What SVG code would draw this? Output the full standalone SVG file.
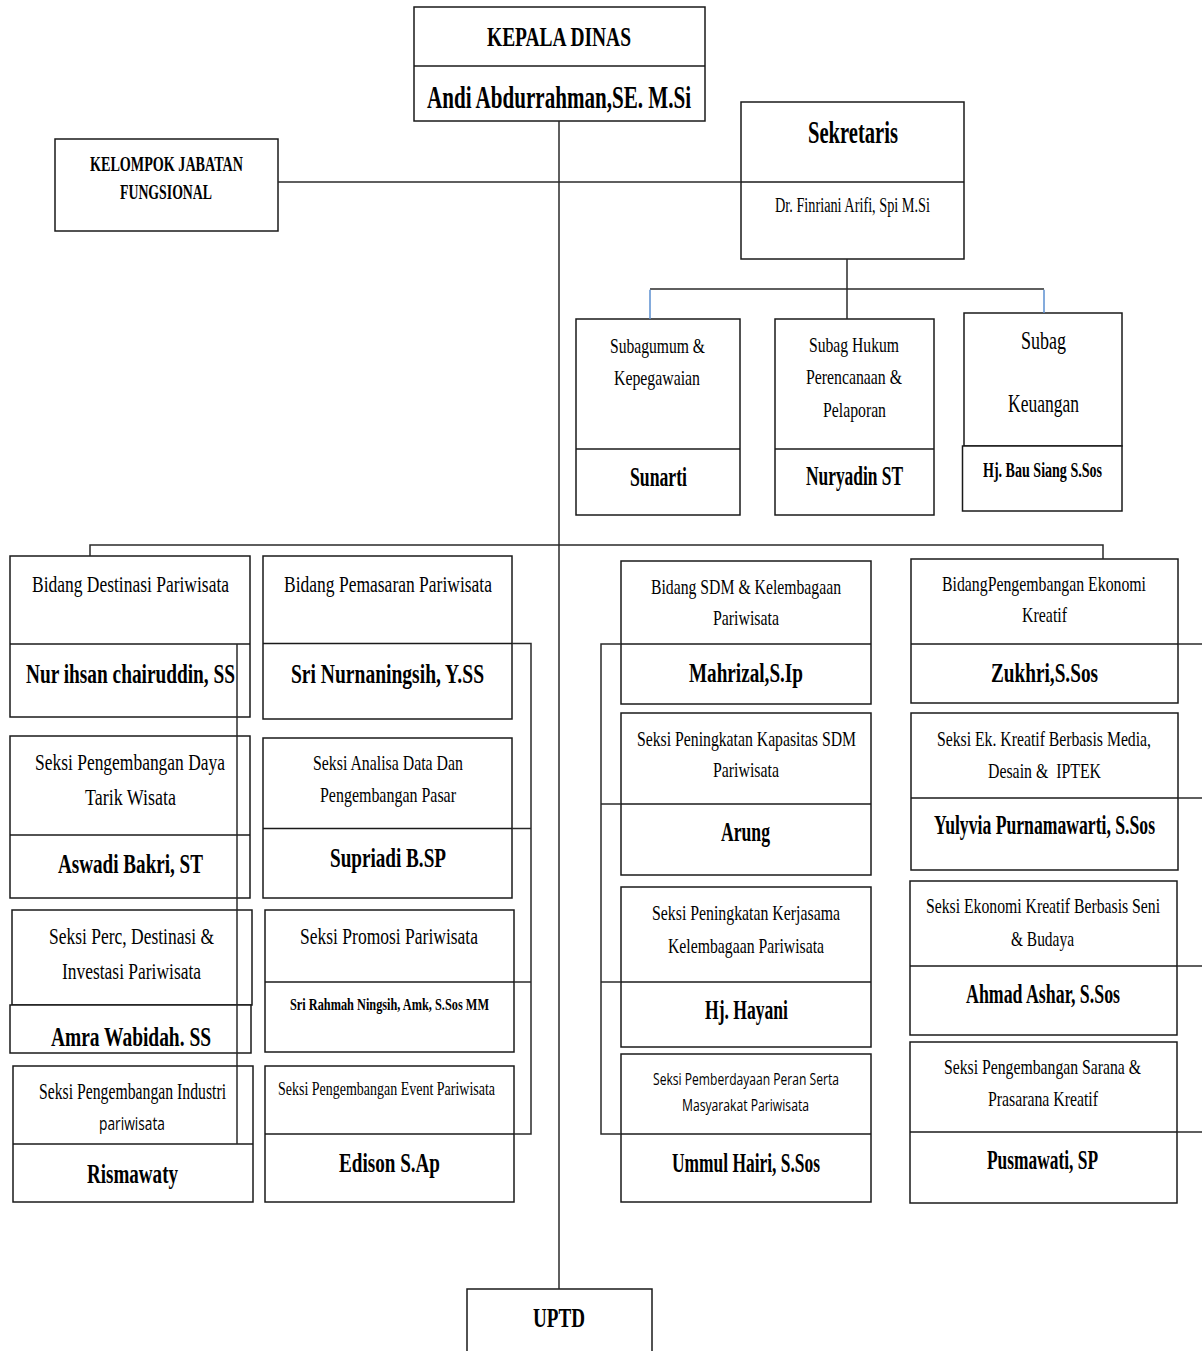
<svg xmlns="http://www.w3.org/2000/svg" width="1202" height="1351" viewBox="0 0 1202 1351">
<style>
.box{fill:#fff;stroke:#1a1a1a;stroke-width:1.5}
.dv{stroke:#1a1a1a;stroke-width:1.5}
.c{fill:none;stroke:#2a2a2a;stroke-width:1.5}
.cb{fill:none;stroke:#5b8fd0;stroke-width:1.5}
text{font-family:"Liberation Serif","Times New Roman",serif;text-anchor:middle;fill:#000}
.b{font-weight:bold}
.s{font-family:"Open Sans","Liberation Sans",sans-serif}
</style>
<rect width="1202" height="1351" fill="#fff"/>

<g id="kepala-dinas">
<rect class="box" x="414" y="7" width="291" height="114"/>
<line class="dv" x1="414" y1="66" x2="705" y2="66"/>
<text class="b" x="559" y="46" font-size="27" textLength="144" lengthAdjust="spacingAndGlyphs">KEPALA DINAS</text>
<text class="b" x="559" y="108" font-size="31" textLength="264" lengthAdjust="spacingAndGlyphs">Andi Abdurrahman,SE. M.Si</text>
</g>

<g id="kelompok">
<rect class="box" x="55" y="139" width="223" height="92"/>
<text class="b" x="166.5" y="170.5" font-size="20" textLength="153" lengthAdjust="spacingAndGlyphs">KELOMPOK JABATAN</text>
<text class="b" x="166" y="199" font-size="20" textLength="92" lengthAdjust="spacingAndGlyphs">FUNGSIONAL</text>
</g>

<g id="sekretaris">
<rect class="box" x="741" y="102" width="223" height="157"/>
<line class="dv" x1="741" y1="182" x2="964" y2="182"/>
<text class="b" x="853" y="142.5" font-size="31" textLength="90" lengthAdjust="spacingAndGlyphs">Sekretaris</text>
<text x="852.5" y="211.5" font-size="20" textLength="155" lengthAdjust="spacingAndGlyphs">Dr. Finriani Arifi, Spi M.Si</text>
</g>

<g id="subag-umum">
<rect class="box" x="576" y="319" width="164" height="196"/>
<line class="dv" x1="576" y1="449" x2="740" y2="449"/>
<text x="657.5" y="353" font-size="22" textLength="95" lengthAdjust="spacingAndGlyphs">Subagumum &amp;</text>
<text x="657" y="385" font-size="22" textLength="86" lengthAdjust="spacingAndGlyphs">Kepegawaian</text>
<text class="b" x="658.5" y="485.5" font-size="27" textLength="57" lengthAdjust="spacingAndGlyphs">Sunarti</text>
</g>

<g id="subag-hukum">
<rect class="box" x="775" y="319" width="159" height="196"/>
<line class="dv" x1="775" y1="449" x2="934" y2="449"/>
<text x="854" y="351.5" font-size="22" textLength="90" lengthAdjust="spacingAndGlyphs">Subag Hukum</text>
<text x="854" y="384" font-size="22" textLength="96" lengthAdjust="spacingAndGlyphs">Perencanaan &amp;</text>
<text x="854.5" y="416.5" font-size="22" textLength="63" lengthAdjust="spacingAndGlyphs">Pelaporan</text>
<text class="b" x="854.5" y="484.5" font-size="27" textLength="97" lengthAdjust="spacingAndGlyphs">Nuryadin ST</text>
</g>

<g id="subag-keuangan">
<rect class="box" x="964" y="313" width="158" height="133"/>
<rect class="box" x="962.5" y="446" width="159.5" height="65"/>
<text x="1043.5" y="348.5" font-size="25" textLength="45" lengthAdjust="spacingAndGlyphs">Subag</text>
<text x="1043.5" y="411.5" font-size="25" textLength="71" lengthAdjust="spacingAndGlyphs">Keuangan</text>
<text class="b" x="1042.5" y="476.5" font-size="20" textLength="119" lengthAdjust="spacingAndGlyphs">Hj. Bau Siang S.Sos</text>
</g>

<g id="bidang-destinasi">
<rect class="box" x="10" y="556" width="240" height="161"/>
<line class="dv" x1="10" y1="644" x2="250" y2="644"/>
<text x="130.5" y="591.5" font-size="23" textLength="197" lengthAdjust="spacingAndGlyphs">Bidang Destinasi Pariwisata</text>
<text class="b" x="130.5" y="682.5" font-size="27" textLength="209" lengthAdjust="spacingAndGlyphs">Nur ihsan chairuddin, SS</text>
</g>

<g id="seksi-daya-tarik">
<rect class="box" x="10" y="736" width="240" height="162"/>
<line class="dv" x1="10" y1="835" x2="250" y2="835"/>
<text x="130" y="770" font-size="24" textLength="190" lengthAdjust="spacingAndGlyphs">Seksi Pengembangan Daya</text>
<text x="130.5" y="805" font-size="24" textLength="91" lengthAdjust="spacingAndGlyphs">Tarik Wisata</text>
<text class="b" x="130.5" y="873" font-size="27" textLength="145" lengthAdjust="spacingAndGlyphs">Aswadi Bakri, ST</text>
</g>

<g id="seksi-perc-destinasi">
<rect class="box" x="12" y="910" width="240" height="95"/>
<rect class="box" x="10" y="1005" width="241" height="48"/>
<text x="131.5" y="944" font-size="24" textLength="165" lengthAdjust="spacingAndGlyphs">Seksi Perc, Destinasi &amp;</text>
<text x="131.5" y="979" font-size="24" textLength="139" lengthAdjust="spacingAndGlyphs">Investasi Pariwisata</text>
<text class="b" x="131" y="1046" font-size="27" textLength="160" lengthAdjust="spacingAndGlyphs">Amra Wabidah. SS</text>
</g>

<g id="seksi-industri">
<rect class="box" x="13" y="1066" width="240" height="136"/>
<line class="dv" x1="13" y1="1144" x2="253" y2="1144"/>
<text x="132.5" y="1099" font-size="23" textLength="187" lengthAdjust="spacingAndGlyphs">Seksi Pengembangan Industri</text>
<text class="s" x="132" y="1130" font-size="18" textLength="66" lengthAdjust="spacingAndGlyphs">pariwisata</text>
<text class="b" x="132.5" y="1183" font-size="27" textLength="91" lengthAdjust="spacingAndGlyphs">Rismawaty</text>
</g>

<g id="bidang-pemasaran">
<rect class="box" x="263" y="556" width="249" height="163"/>
<line class="dv" x1="263" y1="643.5" x2="512" y2="643.5"/>
<text x="388" y="591.5" font-size="23" textLength="208" lengthAdjust="spacingAndGlyphs">Bidang Pemasaran Pariwisata</text>
<text class="b" x="387.5" y="683" font-size="27" textLength="193" lengthAdjust="spacingAndGlyphs">Sri Nurnaningsih, Y.SS</text>
</g>

<g id="seksi-analisa">
<rect class="box" x="263" y="738" width="249" height="160"/>
<line class="dv" x1="263" y1="828.5" x2="512" y2="828.5"/>
<text x="388" y="770" font-size="21" textLength="150" lengthAdjust="spacingAndGlyphs">Seksi Analisa Data Dan</text>
<text x="388" y="802" font-size="21" textLength="136" lengthAdjust="spacingAndGlyphs">Pengembangan Pasar</text>
<text class="b" x="388" y="867" font-size="27" textLength="116" lengthAdjust="spacingAndGlyphs">Supriadi B.SP</text>
</g>

<g id="seksi-promosi">
<rect class="box" x="265" y="910" width="249" height="142"/>
<line class="dv" x1="265" y1="982" x2="514" y2="982"/>
<text x="389" y="944" font-size="23" textLength="178" lengthAdjust="spacingAndGlyphs">Seksi Promosi Pariwisata</text>
<text class="b" x="389.5" y="1010" font-size="17" textLength="199" lengthAdjust="spacingAndGlyphs">Sri Rahmah Ningsih, Amk, S.Sos MM</text>
</g>

<g id="seksi-event">
<rect class="box" x="265" y="1066" width="249" height="136"/>
<line class="dv" x1="265" y1="1134" x2="514" y2="1134"/>
<text x="386.5" y="1094.5" font-size="18" textLength="217" lengthAdjust="spacingAndGlyphs">Seksi Pengembangan Event Pariwisata</text>
<text class="b" x="389.5" y="1172" font-size="27" textLength="101" lengthAdjust="spacingAndGlyphs">Edison S.Ap</text>
</g>

<g id="bidang-sdm">
<rect class="box" x="621" y="561" width="250" height="143"/>
<line class="dv" x1="621" y1="644" x2="871" y2="644"/>
<text x="746" y="594" font-size="22" textLength="190" lengthAdjust="spacingAndGlyphs">Bidang SDM &amp; Kelembagaan</text>
<text x="746" y="625" font-size="22" textLength="66" lengthAdjust="spacingAndGlyphs">Pariwisata</text>
<text class="b" x="746" y="682" font-size="27" textLength="114" lengthAdjust="spacingAndGlyphs">Mahrizal,S.Ip</text>
</g>

<g id="seksi-kapasitas-sdm">
<rect class="box" x="621" y="713" width="250" height="162"/>
<line class="dv" x1="621" y1="804" x2="871" y2="804"/>
<text x="746.5" y="746" font-size="22" textLength="219" lengthAdjust="spacingAndGlyphs">Seksi Peningkatan Kapasitas SDM</text>
<text x="746" y="777" font-size="22" textLength="66" lengthAdjust="spacingAndGlyphs">Pariwisata</text>
<text class="b" x="745.5" y="841" font-size="27" textLength="49" lengthAdjust="spacingAndGlyphs">Arung</text>
</g>

<g id="seksi-kerjasama">
<rect class="box" x="621" y="887" width="250" height="160"/>
<line class="dv" x1="621" y1="982" x2="871" y2="982"/>
<text x="746" y="920" font-size="22" textLength="188" lengthAdjust="spacingAndGlyphs">Seksi Peningkatan Kerjasama</text>
<text x="746" y="953" font-size="22" textLength="156" lengthAdjust="spacingAndGlyphs">Kelembagaan Pariwisata</text>
<text class="b" x="746.5" y="1019" font-size="27" textLength="83" lengthAdjust="spacingAndGlyphs">Hj. Hayani</text>
</g>

<g id="seksi-pemberdayaan">
<rect class="box" x="621" y="1054" width="250" height="148"/>
<line class="dv" x1="621" y1="1134" x2="871" y2="1134"/>
<text class="s" x="746" y="1085" font-size="17" textLength="186" lengthAdjust="spacingAndGlyphs">Seksi Pemberdayaan Peran Serta</text>
<text class="s" x="745.5" y="1110.5" font-size="17" textLength="127" lengthAdjust="spacingAndGlyphs">Masyarakat Pariwisata</text>
<text class="b" x="746" y="1172" font-size="27" textLength="148" lengthAdjust="spacingAndGlyphs">Ummul Hairi, S.Sos</text>
</g>

<g id="bidang-ekonomi-kreatif">
<rect class="box" x="911" y="559" width="267" height="144"/>
<line class="dv" x1="911" y1="644" x2="1178" y2="644"/>
<text x="1044" y="591" font-size="22" textLength="204" lengthAdjust="spacingAndGlyphs">BidangPengembangan Ekonomi</text>
<text x="1044.5" y="622" font-size="22" textLength="45" lengthAdjust="spacingAndGlyphs">Kreatif</text>
<text class="b" x="1044.5" y="682" font-size="27" textLength="107" lengthAdjust="spacingAndGlyphs">Zukhri,S.Sos</text>
</g>

<g id="seksi-media">
<rect class="box" x="911" y="713" width="267" height="157"/>
<line class="dv" x1="911" y1="798" x2="1178" y2="798"/>
<text x="1044" y="746" font-size="22" textLength="214" lengthAdjust="spacingAndGlyphs">Seksi Ek. Kreatif Berbasis Media,</text>
<text x="1044.5" y="778" font-size="22" textLength="113" lengthAdjust="spacingAndGlyphs">Desain &amp;&#160; IPTEK</text>
<text class="b" x="1044.5" y="834" font-size="27" textLength="221" lengthAdjust="spacingAndGlyphs">Yulyvia Purnamawarti, S.Sos</text>
</g>

<g id="seksi-seni-budaya">
<rect class="box" x="910" y="881" width="267" height="154"/>
<line class="dv" x1="910" y1="966" x2="1177" y2="966"/>
<text x="1043" y="913" font-size="22" textLength="234" lengthAdjust="spacingAndGlyphs">Seksi Ekonomi Kreatif Berbasis Seni</text>
<text x="1042.5" y="946" font-size="22" textLength="63" lengthAdjust="spacingAndGlyphs">&amp; Budaya</text>
<text class="b" x="1043" y="1003" font-size="27" textLength="154" lengthAdjust="spacingAndGlyphs">Ahmad Ashar, S.Sos</text>
</g>

<g id="seksi-sarana">
<rect class="box" x="910" y="1042" width="267" height="161"/>
<line class="dv" x1="910" y1="1132" x2="1177" y2="1132"/>
<text x="1042.5" y="1074" font-size="22" textLength="197" lengthAdjust="spacingAndGlyphs">Seksi Pengembangan Sarana &amp;</text>
<text x="1043" y="1106" font-size="22" textLength="110" lengthAdjust="spacingAndGlyphs">Prasarana Kreatif</text>
<text class="b" x="1042.5" y="1169" font-size="27" textLength="111" lengthAdjust="spacingAndGlyphs">Pusmawati, SP</text>
</g>

<g id="uptd">
<rect class="box" x="467" y="1289" width="185" height="80"/>
<text class="b" x="559" y="1327" font-size="28" textLength="52" lengthAdjust="spacingAndGlyphs">UPTD</text>
</g>

<g id="connectors">
<line class="c" x1="559" y1="121" x2="559" y2="1289"/>
<line class="c" x1="278" y1="182" x2="741" y2="182"/>
<line class="c" x1="847" y1="259" x2="847" y2="319"/>
<line class="c" x1="650" y1="289" x2="1044" y2="289"/>
<line class="cb" x1="650" y1="289.7" x2="650" y2="319"/>
<line class="cb" x1="1044" y1="289.7" x2="1044" y2="313"/>
<polyline class="c" points="90,556 90,545 1103,545 1103,559"/>
<line class="c" x1="237" y1="644" x2="237" y2="1144"/>
<polyline class="c" points="512,643.5 531,643.5 531,1134 514,1134"/>
<line class="c" x1="512" y1="828.5" x2="531" y2="828.5"/>
<line class="c" x1="514" y1="982" x2="531" y2="982"/>
<polyline class="c" points="621,644 601,644 601,1134 621,1134"/>
<line class="c" x1="601" y1="804" x2="621" y2="804"/>
<line class="c" x1="601" y1="982" x2="621" y2="982"/>
<line class="c" x1="1178" y1="644" x2="1202" y2="644"/>
<line class="c" x1="1178" y1="798" x2="1202" y2="798"/>
<line class="c" x1="1177" y1="966" x2="1202" y2="966"/>
<line class="c" x1="1177" y1="1132" x2="1202" y2="1132"/>
</g>
</svg>
